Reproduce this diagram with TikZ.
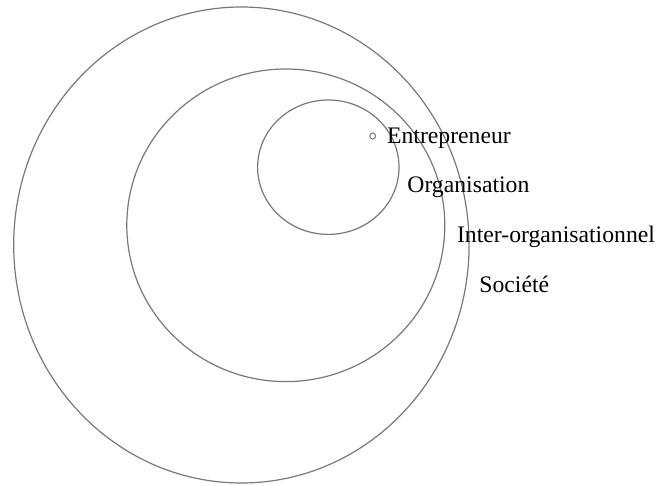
\documentclass[tikz,border=0pt]{standalone}
\usepackage{fontspec}
\setmainfont{Liberation Serif}
\usepackage{xcolor}
\usepackage{tikz}
\usetikzlibrary{
  positioning,
  calc
}
\definecolor{ringgray}{RGB}{120,120,120}

\begin{document}
\begin{tikzpicture}[x=0.5pt, y=-0.5pt,
    ring/.style={draw=ringgray, line width=0.6pt},
    level/.style={anchor=base west, inner sep=0pt, font=\fontsize{11.85}{14}\selectfont}]
      \useasboundingbox (0,0) rectangle (659,486);

      % Rings
      \draw[ring] (241.4,245) ellipse (227.7 and 238);
      \draw[ring] (285.8,225.3) ellipse (159 and 156.3);
      \draw[ring] (328.3,167.2) ellipse (70.7 and 67.2);

      % Entrepreneur point
      \draw[ring, line width=0.5pt] (372.7,136) circle (3);

      % Labels
      \node[level] (entrepreneur) at (386.7,144) {Entrepreneur};
      \node[level] (organisation) at (407,193) {Organisation};
      \node[level] (inter) at (456.7,243) {Inter-organisationnel};
      \node[level] (societe) at (479,293) {Société};
    \end{tikzpicture}
\end{document}
